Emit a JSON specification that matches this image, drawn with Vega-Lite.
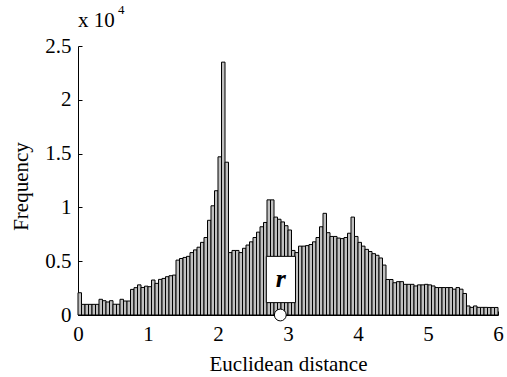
{
  "$schema": "https://vega.github.io/schema/vega-lite/v6.json",
  "width": 420,
  "height": 269,
  "autosize": "none",
  "padding": {"left": 78, "top": 46, "right": 9, "bottom": 62},
  "background": "white",
  "config": {"view": {"stroke": null}, "font": "Liberation Serif"},
  "datasets": {
    "hist": [
      {"x0":0.00,"x1":0.05,"n":2070},{"x0":0.05,"x1":0.10,"n":990},{"x0":0.10,"x1":0.15,"n":990},{"x0":0.15,"x1":0.20,"n":990},{"x0":0.20,"x1":0.25,"n":990},
      {"x0":0.25,"x1":0.30,"n":990},{"x0":0.30,"x1":0.35,"n":1460},{"x0":0.35,"x1":0.40,"n":1330},{"x0":0.40,"x1":0.45,"n":1210},{"x0":0.45,"x1":0.50,"n":1330},
      {"x0":0.50,"x1":0.55,"n":1000},{"x0":0.55,"x1":0.60,"n":1000},{"x0":0.60,"x1":0.65,"n":1460},{"x0":0.65,"x1":0.70,"n":1300},{"x0":0.70,"x1":0.75,"n":1300},
      {"x0":0.75,"x1":0.80,"n":2380},{"x0":0.80,"x1":0.85,"n":2540},{"x0":0.85,"x1":0.90,"n":2800},{"x0":0.90,"x1":0.95,"n":2560},{"x0":0.95,"x1":1.00,"n":2680},
      {"x0":1.00,"x1":1.05,"n":2630},{"x0":1.05,"x1":1.10,"n":3250},{"x0":1.10,"x1":1.15,"n":2940},{"x0":1.15,"x1":1.20,"n":3310},{"x0":1.20,"x1":1.25,"n":3400},
      {"x0":1.25,"x1":1.30,"n":3560},{"x0":1.30,"x1":1.35,"n":3650},{"x0":1.35,"x1":1.40,"n":3710},{"x0":1.40,"x1":1.45,"n":5100},{"x0":1.45,"x1":1.50,"n":5250},
      {"x0":1.50,"x1":1.55,"n":5350},{"x0":1.55,"x1":1.60,"n":5450},{"x0":1.60,"x1":1.65,"n":5800},{"x0":1.65,"x1":1.70,"n":6050},{"x0":1.70,"x1":1.75,"n":6300},
      {"x0":1.75,"x1":1.80,"n":6750},{"x0":1.80,"x1":1.85,"n":7200},{"x0":1.85,"x1":1.90,"n":8800},{"x0":1.90,"x1":1.95,"n":10150},{"x0":1.95,"x1":2.00,"n":11550},
      {"x0":2.00,"x1":2.05,"n":14700},{"x0":2.05,"x1":2.10,"n":23500},{"x0":2.10,"x1":2.15,"n":14200},{"x0":2.15,"x1":2.20,"n":5800},{"x0":2.20,"x1":2.25,"n":6000},
      {"x0":2.25,"x1":2.30,"n":6000},{"x0":2.30,"x1":2.35,"n":5800},{"x0":2.35,"x1":2.40,"n":6200},{"x0":2.40,"x1":2.45,"n":6500},{"x0":2.45,"x1":2.50,"n":6800},
      {"x0":2.50,"x1":2.55,"n":7200},{"x0":2.55,"x1":2.60,"n":7700},{"x0":2.60,"x1":2.65,"n":8200},{"x0":2.65,"x1":2.70,"n":8600},{"x0":2.70,"x1":2.75,"n":10700},
      {"x0":2.75,"x1":2.80,"n":10700},{"x0":2.80,"x1":2.85,"n":9100},{"x0":2.85,"x1":2.90,"n":8900},{"x0":2.90,"x1":2.95,"n":8650},{"x0":2.95,"x1":3.00,"n":8300},
      {"x0":3.00,"x1":3.05,"n":7900},{"x0":3.05,"x1":3.10,"n":6000},{"x0":3.10,"x1":3.15,"n":5800},{"x0":3.15,"x1":3.20,"n":6400},{"x0":3.20,"x1":3.25,"n":6400},
      {"x0":3.25,"x1":3.30,"n":6450},{"x0":3.30,"x1":3.35,"n":6550},{"x0":3.35,"x1":3.40,"n":6800},{"x0":3.40,"x1":3.45,"n":7200},{"x0":3.45,"x1":3.50,"n":8200},
      {"x0":3.50,"x1":3.55,"n":9450},{"x0":3.55,"x1":3.60,"n":7650},{"x0":3.60,"x1":3.65,"n":7300},{"x0":3.65,"x1":3.70,"n":7300},{"x0":3.70,"x1":3.75,"n":7150},
      {"x0":3.75,"x1":3.80,"n":7100},{"x0":3.80,"x1":3.85,"n":7200},{"x0":3.85,"x1":3.90,"n":7600},{"x0":3.90,"x1":3.95,"n":9100},{"x0":3.95,"x1":4.00,"n":7300},
      {"x0":4.00,"x1":4.05,"n":6750},{"x0":4.05,"x1":4.10,"n":6400},{"x0":4.10,"x1":4.15,"n":6100},{"x0":4.15,"x1":4.20,"n":5900},{"x0":4.20,"x1":4.25,"n":5700},
      {"x0":4.25,"x1":4.30,"n":5550},{"x0":4.30,"x1":4.35,"n":5300},{"x0":4.35,"x1":4.40,"n":4640},{"x0":4.40,"x1":4.45,"n":3300},{"x0":4.45,"x1":4.50,"n":3300},
      {"x0":4.50,"x1":4.55,"n":3000},{"x0":4.55,"x1":4.60,"n":3100},{"x0":4.60,"x1":4.65,"n":3100},{"x0":4.65,"x1":4.70,"n":2850},{"x0":4.70,"x1":4.75,"n":2850},
      {"x0":4.75,"x1":4.80,"n":2850},{"x0":4.80,"x1":4.85,"n":2700},{"x0":4.85,"x1":4.90,"n":2800},{"x0":4.90,"x1":4.95,"n":2800},{"x0":4.95,"x1":5.00,"n":2850},
      {"x0":5.00,"x1":5.05,"n":2800},{"x0":5.05,"x1":5.10,"n":2700},{"x0":5.10,"x1":5.15,"n":2550},{"x0":5.15,"x1":5.20,"n":2550},{"x0":5.20,"x1":5.25,"n":2550},
      {"x0":5.25,"x1":5.30,"n":2550},{"x0":5.30,"x1":5.35,"n":2550},{"x0":5.35,"x1":5.40,"n":2400},{"x0":5.40,"x1":5.45,"n":2550},{"x0":5.45,"x1":5.50,"n":2400},
      {"x0":5.50,"x1":5.55,"n":2000},{"x0":5.55,"x1":5.60,"n":840},{"x0":5.60,"x1":5.65,"n":710},{"x0":5.65,"x1":5.70,"n":840},{"x0":5.70,"x1":5.75,"n":710},
      {"x0":5.75,"x1":5.80,"n":710},{"x0":5.80,"x1":5.85,"n":710},{"x0":5.85,"x1":5.90,"n":700},{"x0":5.90,"x1":5.95,"n":700},{"x0":5.95,"x1":6.00,"n":700}
    ],
    "marker": [{"label": "r", "x0": 2.69, "x1": 3.107, "y0": 1150, "y1": 5450, "xc": 2.898, "yc": 3300, "px": 2.89, "py": 0}],
    "scale": [{"t": "x 10", "x": 0.0, "y": 26800, "e": "4", "ex": 0.57, "ey": 27950}]
  },
  "layer": [
    {
      "data": {"name": "hist"},
      "mark": {"type": "rect", "fill": "#c0c0c0", "stroke": "black", "strokeWidth": 1},
      "encoding": {
        "x": {"field": "x0", "type": "quantitative", "scale": {"domain": [0, 6], "nice": false},
          "axis": {"values": [0,1,2,3,4,5,6], "format": "d", "labelFlush": false, "grid": false, "tickSize": -4, "tickColor": "black", "domainColor": "black",
            "labelFontSize": 21, "labelColor": "black", "labelPadding": 12, "labelFont": "Liberation Serif",
            "title": "Euclidean distance", "titleFontSize": 21, "titleFontWeight": "normal", "titleColor": "black", "titlePadding": 9, "titleFont": "Liberation Serif"}},
        "x2": {"field": "x1"},
        "y": {"field": "n", "type": "quantitative", "scale": {"domain": [0, 25000], "nice": false},
          "axis": {"values": [0,5000,10000,15000,20000,25000], "labelExpr": "datum.value / 10000", "labelFlush": false, "grid": false, "tickSize": -4, "tickColor": "black", "domainColor": "black",
            "labelFontSize": 21, "labelColor": "black", "labelPadding": 11, "labelFont": "Liberation Serif",
            "title": "Frequency", "titleFontSize": 21, "titleFontWeight": "normal", "titleColor": "black", "titlePadding": 13, "titleY": 140, "titleFont": "Liberation Serif"}}
      }
    },
    {
      "data": {"name": "marker"},
      "mark": {"type": "rect", "fill": "white", "stroke": "black", "strokeWidth": 1},
      "encoding": {
        "x": {"field": "x0", "type": "quantitative"},
        "x2": {"field": "x1"},
        "y": {"field": "y0", "type": "quantitative"},
        "y2": {"field": "y1"}
      }
    },
    {
      "data": {"name": "marker"},
      "mark": {"type": "text", "font": "Liberation Serif", "fontSize": 26, "fontStyle": "italic", "fontWeight": "bold", "color": "black", "baseline": "middle", "align": "center"},
      "encoding": {
        "x": {"field": "xc", "type": "quantitative"},
        "y": {"field": "yc", "type": "quantitative"},
        "text": {"field": "label"}
      }
    },
    {
      "data": {"name": "marker"},
      "mark": {"type": "point", "filled": true, "fill": "white", "stroke": "black", "strokeWidth": 1, "size": 140, "shape": "circle", "opacity": 1, "clip": false},
      "encoding": {
        "x": {"field": "px", "type": "quantitative"},
        "y": {"field": "py", "type": "quantitative"}
      }
    },
    {
      "data": {"name": "scale"},
      "mark": {"type": "text", "font": "Liberation Serif", "fontSize": 21, "color": "black", "align": "left", "baseline": "alphabetic", "clip": false},
      "encoding": {
        "x": {"field": "x", "type": "quantitative"},
        "y": {"field": "y", "type": "quantitative"},
        "text": {"field": "t"}
      }
    },
    {
      "data": {"name": "scale"},
      "mark": {"type": "text", "font": "Liberation Serif", "fontSize": 13, "color": "black", "align": "left", "baseline": "alphabetic", "clip": false},
      "encoding": {
        "x": {"field": "ex", "type": "quantitative"},
        "y": {"field": "ey", "type": "quantitative"},
        "text": {"field": "e"}
      }
    }
  ]
}
